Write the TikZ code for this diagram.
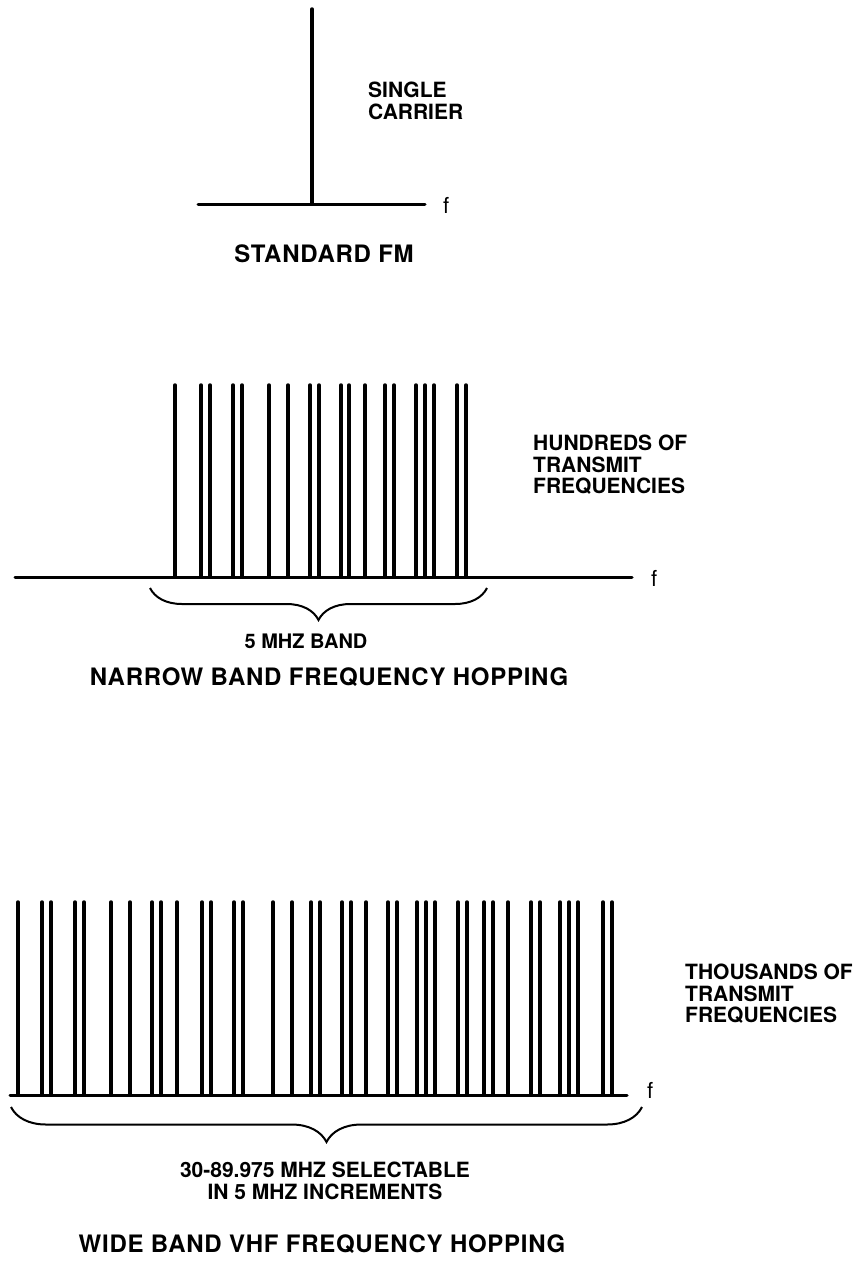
\documentclass[tikz,border=0pt]{standalone}
\usepackage{fontspec}
\setmainfont{TeX Gyre Heros}
\newfontfamily\headfont[LetterSpace=3]{TeX Gyre Heros}
\usetikzlibrary{decorations.pathreplacing}

\begin{document}
\begin{tikzpicture}[x=1pt, y=-1pt,
  axis/.style={line width=3pt, line cap=round},
  carrier/.style={line width=3.5pt, line cap=round},
  lab/.style={font=\fontsize{21}{21.5}\selectfont\bfseries, align=left, anchor=north west, inner sep=0pt},
  note/.style={font=\fontsize{21}{22}\selectfont\bfseries, align=center, anchor=north, inner sep=0pt},
  head/.style={font=\headfont\fontsize{24}{28}\selectfont\bfseries, anchor=base, inner sep=0pt},
  flab/.style={font=\fontsize{22}{22}\selectfont, anchor=base west, inner sep=0pt},
  band/.style={decorate, decoration={brace, mirror, amplitude=#1, aspect=0.5}, line width=2pt}
]
\useasboundingbox (0,0) rectangle (861,1261);

% standard FM
\coordinate (fmL) at (198,204);
\coordinate (fmR) at (425,204);
\draw[axis] (fmL) -- (fmR);
\draw[carrier] (312,204) -- (312,9);
\node[flab] (fmf) at (443,213) {f};
\node[lab] (single) at (368,82) {SINGLE\\CARRIER};
\node[head] (fmtitle) at (324,262) {STANDARD FM};

% narrow band hopping
\coordinate (nbL) at (15,577);
\coordinate (nbR) at (632,577);
\draw[axis] (nbL) -- (nbR);
\foreach \x in {175,201,210,233,242,269,288,310,319,341,349,365,385,394,416,425,434,457,466} {
  \draw[carrier] (\x,577) -- (\x,385);
}
\node[flab] (nbf) at (651,586) {f};
\node[lab] (hundreds) at (533,435) {HUNDREDS OF\\TRANSMIT\\FREQUENCIES};
\coordinate (nbbL) at (150,588);
\coordinate (nbbR) at (487,588);
\draw[band=32pt] (nbbL) -- (nbbR);
\node[head, font=\fontsize{20}{24}\selectfont\bfseries] (nbband) at (306,648) {5 MHZ BAND};
\node[head] (nbtitle) at (329,685) {NARROW BAND FREQUENCY HOPPING};

% wide band hopping
\coordinate (wbL) at (10,1095);
\coordinate (wbR) at (627,1095);
\draw[axis] (wbL) -- (wbR);
\foreach \x in {18,42,51,75,84,111,130,152,161,177,202,211,234,243,273,292,311,320,
                342,351,366,388,397,417,426,435,458,467,484,493,508,531,540,560,569,578,603,612} {
  \draw[carrier] (\x,1095) -- (\x,902);
}
\node[flab] (wbf) at (647,1098) {f};
\node[lab] (thousands) at (685,964) {THOUSANDS OF\\TRANSMIT\\FREQUENCIES};
\coordinate (wbbL) at (11,1107);
\coordinate (wbbR) at (642,1107);
\draw[band=35pt] (wbbL) -- (wbbR);
\node[note] (wbrange) at (325,1162) {30-89.975 MHZ SELECTABLE\\IN 5 MHZ INCREMENTS};
\node[head] (wbtitle) at (322,1252) {WIDE BAND VHF FREQUENCY HOPPING};
\end{tikzpicture}
\end{document}
